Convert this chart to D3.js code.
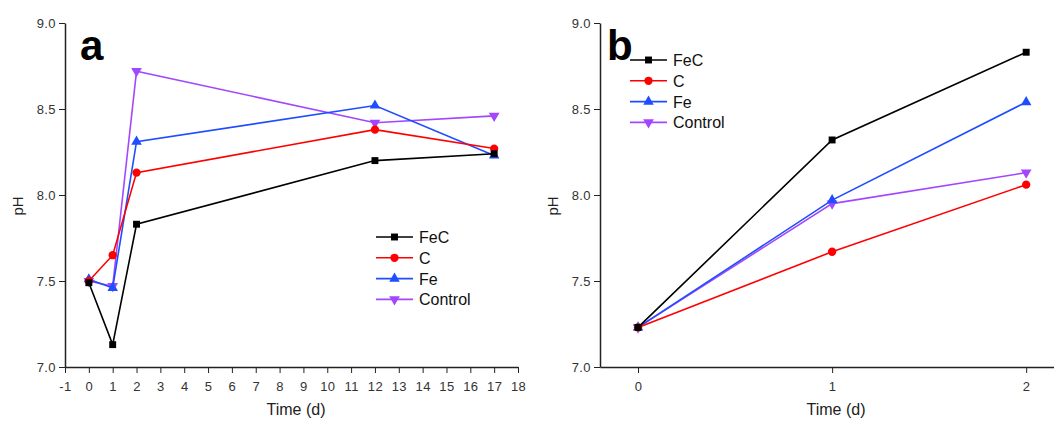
<!DOCTYPE html>
<html>
<head>
<meta charset="utf-8">
<script src="https://cdn.jsdelivr.net/npm/d3@7.9.0/dist/d3.min.js"></script>
<style>
  body { margin: 0; background: #fff; }
  svg { font-family: "Liberation Sans", Arial, sans-serif; }
  .tick text { fill: #333; font-size: 13px; letter-spacing: 0.4px; }
  .tick line, .domain { stroke: #222; }
</style>
</head>
<body>
<svg id="chart" width="1054" height="421"></svg>
<script>
// Panel a: time in days
const daysA = [0, 1, 2, 12, 17];
const fecA = [7.49, 7.13, 7.83, 8.20, 8.24];
const cA = [7.50, 7.65, 8.13, 8.38, 8.27];
const feA = [7.51, 7.46, 8.31, 8.52, 8.23];
const controlA = [7.50, 7.47, 8.72, 8.42, 8.46];

// Panel b
const daysB = [0, 1, 2];
const fecB = [7.23, 8.32, 8.83];
const cB = [7.23, 7.67, 8.06];
const feB = [7.23, 7.97, 8.54];
const controlB = [7.23, 7.95, 8.13];

const seriesNames = ['FeC', 'C', 'Fe', 'Control'];
const seriesColors = ['#000000', '#ff0000', '#1f4dff', '#a347ff'];
const seriesSymbols = [d3.symbolSquare, d3.symbolCircle, d3.symbolTriangle, 'down'];

const yTicks = [7.0, 7.5, 8.0, 8.5, 9.0];
const xTicksA = d3.range(-1, 19);
const xTicksB = [0, 1, 2];

const svg = d3.select('#chart');

function marker(g, sym, x, y, color) {
  if (sym === 'down') {
    g.append('path')
      .attr('d', d3.symbol().type(d3.symbolTriangle).size(50)())
      .attr('transform', `translate(${x},${y}) rotate(180)`)
      .attr('fill', color);
  } else {
    const size = sym === d3.symbolCircle ? 54 : 48;
    g.append('path')
      .attr('d', d3.symbol().type(sym).size(size)())
      .attr('transform', `translate(${x},${y})`)
      .attr('fill', color);
  }
}

function drawPanel(opt) {
  const { left, right, xDomain, xTicks, days, series, letter, legendX, legendY } = opt;
  const x = d3.scaleLinear().domain(xDomain).range([left, right]);
  const y = d3.scaleLinear().domain([7.0, 9.0]).range([367, 23]);
  const g = svg.append('g');

  g.append('g')
    .attr('transform', 'translate(0,367)')
    .call(d3.axisBottom(x).tickValues(xTicks).tickFormat(d => String(d)).tickSize(6).tickSizeOuter(0))
    .call(a => a.selectAll('text').attr('dy', '1.15em'));

  g.append('g')
    .attr('transform', `translate(${left},0)`)
    .call(d3.axisLeft(y).tickValues(yTicks).tickFormat(d3.format('.1f')).tickSize(6).tickSizeOuter(0));

  g.selectAll('.domain').attr('stroke-width', 1.5);

  g.append('text')
    .attr('transform', `translate(${left - 42},206) rotate(-90)`)
    .attr('text-anchor', 'middle')
    .attr('font-size', 15)
    .attr('fill', '#222')
    .text('pH');

  g.append('text')
    .attr('x', opt.titleX)
    .attr('y', 415)
    .attr('text-anchor', 'middle')
    .attr('font-size', 16)
    .attr('fill', '#222')
    .text('Time (d)');

  g.append('text')
    .attr('x', opt.letterX)
    .attr('y', 60)
    .attr('font-size', 42)
    .attr('font-weight', 'bold')
    .text(letter);

  const line = d3.line().x((d, i) => x(days[i])).y(d => y(d));
  // draw in reverse so black sits on top
  series.slice().reverse().forEach((vals, ri) => {
    const i = series.length - 1 - ri;
    g.append('path')
      .attr('d', line(vals))
      .attr('fill', 'none')
      .attr('stroke', seriesColors[i])
      .attr('stroke-width', 1.6);
    vals.forEach((v, j) => marker(g, seriesSymbols[i], x(days[j]), y(v), seriesColors[i]));
  });

  seriesNames.forEach((name, i) => {
    const ly = legendY + i * 20.8;
    g.append('line')
      .attr('x1', legendX).attr('x2', legendX + 37)
      .attr('y1', ly).attr('y2', ly)
      .attr('stroke', seriesColors[i]).attr('stroke-width', 1.6);
    marker(g, seriesSymbols[i], legendX + 18.5, ly, seriesColors[i]);
    g.append('text')
      .attr('x', legendX + 43)
      .attr('y', ly + 6)
      .attr('font-size', 16)
      .attr('fill', '#111')
      .text(name);
  });
}

drawPanel({
  left: 65, right: 518, xDomain: [-1, 18], xTicks: xTicksA, days: daysA,
  series: [fecA, cA, feA, controlA], letter: 'a', letterX: 80, titleX: 296,
  legendX: 376, legendY: 237
});

drawPanel({
  left: 600, right: 1065, xDomain: [-0.196, 2.2], xTicks: xTicksB, days: daysB,
  series: [fecB, cB, feB, controlB], letter: 'b', letterX: 607, titleX: 836,
  legendX: 630, legendY: 60
});
</script>
</body>
</html>
